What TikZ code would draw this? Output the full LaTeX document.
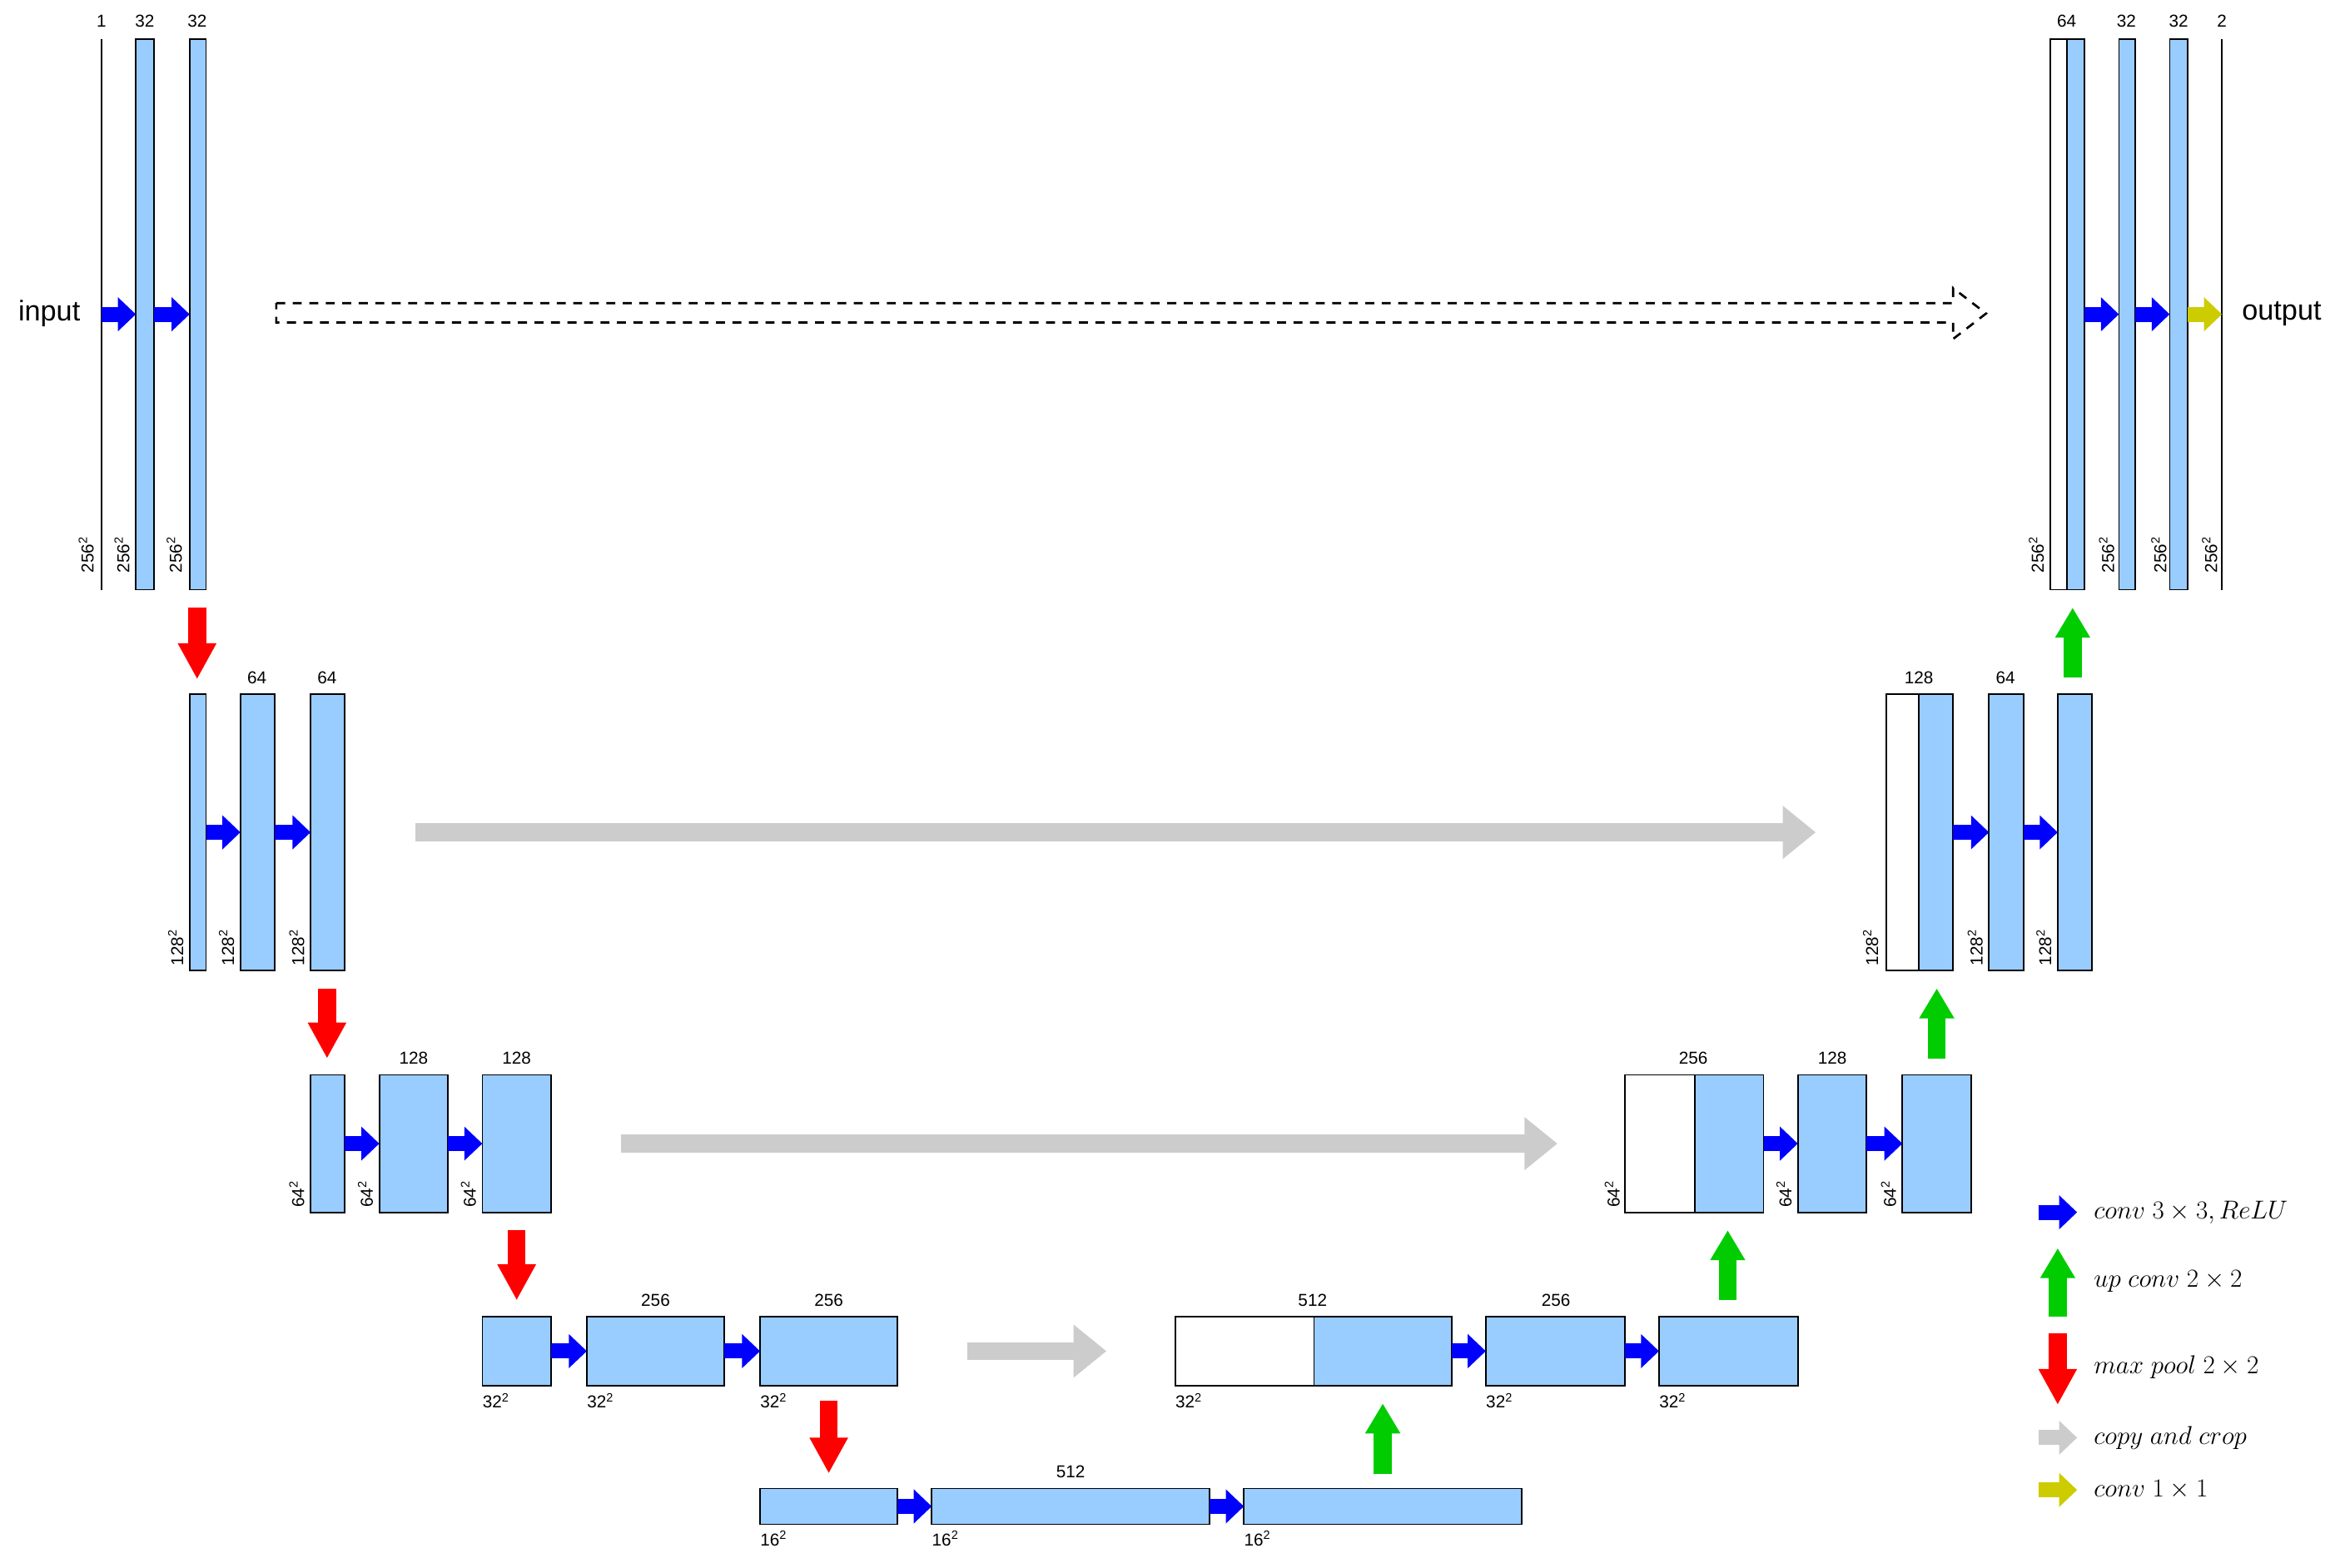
\documentclass[tikz,border=0pt]{standalone}
\usepackage{fontspec}
\setmainfont{Liberation Sans}
\usetikzlibrary{arrows.meta}
\definecolor{barblue}{RGB}{153,204,255}
\definecolor{cgreen}{RGB}{0,204,0}
\definecolor{cgray}{RGB}{204,204,204}
\definecolor{cyel}{RGB}{204,204,0}
\newcommand\blk[6]{\pgfmathsetmacro\bw{(#3-#2)*0.9955}\pgfmathsetmacro\bh{(#5-#4)*0.9955}\pgfmathsetmacro\bx{(#2+#3)/2}\pgfmathsetmacro\by{(#4+#5)/2}\node[blk,fill=#6,minimum width=\bw pt,minimum height=\bh pt] (#1) at (\bx,\by) {};}
\begin{document}
\begin{tikzpicture}[x=0.9955pt,y=-0.9955pt,
  blk/.style={draw,line width=1pt,inner sep=0pt,outer sep=0pt},
  lab/.style={font=\fontsize{11.5}{12}\selectfont,inner sep=1pt},
  conv/.style={blue,line width=10pt,-{Triangle[length=12pt,width=22pt]}},
  cone/.style={cyel,line width=10pt,-{Triangle[length=12pt,width=22pt]}},
  copy/.style={cgray,line width=12pt,-{Triangle[length=22pt,width=34pt]}},
  pool/.style={red,line width=12pt,-{Triangle[length=24pt,width=24pt]}},
  up/.style={cgreen,line width=12pt,-{Triangle[length=20pt,width=22pt]}},
  leg/.style={anchor=west,font=\fontsize{17}{18}\selectfont,inner sep=0pt}]
\useasboundingbox (0pt,0pt) rectangle (1560pt,-1045pt);
% ---------- level 1 left
\coordinate (inA) at (68,210.5);
\draw[line width=1pt] (68,26) -- (68,395);
\blk{a1}{91}{103}{26}{395}{barblue}
\blk{a2}{127}{138}{26}{395}{barblue}
\node[lab] at (68,14) {1};
\node[lab] at (97,14) {32};
\node[lab] at (132,14) {32};
\node[font=\fontsize{19}{20}\selectfont] at (33,210) {input};
\draw[conv] (inA) -- (a1.west);
\draw[conv] (a1.east) -- (a2.west);
\foreach \x in {64,88,123}{\node[lab,rotate=90,anchor=south west] at (\x,385) {256\textsuperscript{2}};}
% dashed copy
\draw[line width=1.5pt,dash pattern=on 6pt off 5pt] (185,203) -- (1308,203) -- (1308,193) -- (1330,210) -- (1308,227) -- (1308,216) -- (185,216) -- cycle;
% ---------- level 1 right
\blk{o0}{1373}{1384}{26}{395}{white}
\blk{o1}{1384}{1396}{26}{395}{barblue}
\blk{o2}{1419}{1430}{26}{395}{barblue}
\blk{o3}{1453}{1465}{26}{395}{barblue}
\draw[line width=1pt] (1488,26) -- (1488,395);
\coordinate (outA) at (1488,210.5);
\node[lab] at (1384,14) {64};
\node[lab] at (1424,14) {32};
\node[lab] at (1459,14) {32};
\node[lab] at (1488,14) {2};
\draw[conv] (o1.east) -- (o2.west);
\draw[conv] (o2.east) -- (o3.west);
\draw[cone] (o3.east) -- (outA);
\node[font=\fontsize{19}{20}\selectfont] at (1528,210) {output};
\foreach \x in {1370,1417,1452,1486}{\node[lab,rotate=90,anchor=south west] at (\x,385) {256\textsuperscript{2}};}
% ---------- level 2
\draw[pool] (132,407) -- (132,455);
\blk{b1}{127}{138}{465}{650}{barblue}
\blk{b2}{161}{184}{465}{650}{barblue}
\blk{b3}{208}{231}{465}{650}{barblue}
\node[lab] at (172,454) {64};
\node[lab] at (219,454) {64};
\draw[conv] (b1.east) -- (b2.west);
\draw[conv] (b2.east) -- (b3.west);
\foreach \x in {124,158,205}{\node[lab,rotate=90,anchor=south west] at (\x,648) {128\textsuperscript{2}};}
\draw[copy] (278,557.5) -- (1216,557.5);
\blk{c0}{1263}{1285}{465}{650}{white}
\blk{c1}{1285}{1308}{465}{650}{barblue}
\blk{c2}{1332}{1355}{465}{650}{barblue}
\blk{c3}{1378}{1401}{465}{650}{barblue}
\node[lab] at (1285,454) {128};
\node[lab] at (1343,454) {64};
\draw[conv] (c1.east) -- (c2.west);
\draw[conv] (c2.east) -- (c3.west);
\foreach \x in {1259,1329,1375}{\node[lab,rotate=90,anchor=south west] at (\x,648) {128\textsuperscript{2}};}
\draw[up] (1388,454) -- (1388,407);
% ---------- level 3
\draw[pool] (219,662) -- (219,709);
\blk{d1}{208}{231}{720}{812}{barblue}
\blk{d2}{254}{300}{720}{812}{barblue}
\blk{d3}{323}{369}{720}{812}{barblue}
\node[lab] at (277,709) {128};
\node[lab] at (346,709) {128};
\draw[conv] (d1.east) -- (d2.west);
\draw[conv] (d2.east) -- (d3.west);
\foreach \x in {205,251,320}{\node[lab,rotate=90,anchor=south west] at (\x,810) {64\textsuperscript{2}};}
\draw[copy] (416,766) -- (1043,766);
\blk{e0}{1088}{1135}{720}{812}{white}
\blk{e1}{1135}{1181}{720}{812}{barblue}
\blk{e2}{1204}{1250}{720}{812}{barblue}
\blk{e3}{1274}{1320}{720}{812}{barblue}
\node[lab] at (1134,709) {256};
\node[lab] at (1227,709) {128};
\draw[conv] (e1.east) -- (e2.west);
\draw[conv] (e2.east) -- (e3.west);
\foreach \x in {1086,1201,1271}{\node[lab,rotate=90,anchor=south west] at (\x,810) {64\textsuperscript{2}};}
\draw[up] (1297,709) -- (1297,662);
% ---------- level 4
\draw[pool] (346,824) -- (346,871);
\blk{f1}{323}{369}{882}{928}{barblue}
\blk{f2}{393}{485}{882}{928}{barblue}
\blk{f3}{509}{601}{882}{928}{barblue}
\node[lab] at (439,871) {256};
\node[lab] at (555,871) {256};
\draw[conv] (f1.east) -- (f2.west);
\draw[conv] (f2.east) -- (f3.west);
\foreach \x in {323,393,509}{\node[lab,anchor=north west,inner sep=0pt] at (\x,933) {32\textsuperscript{2}};}
\draw[copy] (648,905) -- (741,905);
\blk{g0}{787}{880}{882}{928}{white}
\blk{g1}{880}{972}{882}{928}{barblue}
\blk{g2}{995}{1088}{882}{928}{barblue}
\blk{g3}{1111}{1204}{882}{928}{barblue}
\node[lab] at (879,871) {512};
\node[lab] at (1042,871) {256};
\draw[conv] (g1.east) -- (g2.west);
\draw[conv] (g2.east) -- (g3.west);
\foreach \x in {787,995,1111}{\node[lab,anchor=north west,inner sep=0pt] at (\x,933) {32\textsuperscript{2}};}
\draw[up] (1157,871) -- (1157,824);
% ---------- level 5
\draw[pool] (555,938) -- (555,987);
\blk{h1}{509}{601}{997}{1021}{barblue}
\blk{h2}{624}{810}{997}{1021}{barblue}
\blk{h3}{833}{1019}{997}{1021}{barblue}
\node[lab] at (717,986) {512};
\draw[conv] (h1.east) -- (h2.west);
\draw[conv] (h2.east) -- (h3.west);
\foreach \x in {509,624,833}{\node[lab,anchor=north west,inner sep=0pt] at (\x,1025) {16\textsuperscript{2}};}
\draw[up] (926,987) -- (926,940);
% ---------- legend
\draw[conv] (1365,812) -- (1391,812);
\node[leg] at (1402,812) {$conv\ 3\times 3, ReLU$};
\draw[up] (1378,882) -- (1378,836);
\node[leg] at (1402,858) {$up\ conv\ 2\times 2$};
\draw[pool] (1378,893) -- (1378,941);
\node[leg] at (1402,916) {$max\ pool\ 2\times 2$};
\draw[cgray,line width=10pt,-{Triangle[length=12pt,width=22pt]}] (1365,963) -- (1391,963);
\node[leg] at (1402,963) {$copy\ and\ crop$};
\draw[cone] (1365,998) -- (1391,998);
\node[leg] at (1402,998) {$conv\ 1\times 1$};
\end{tikzpicture}
\end{document}
